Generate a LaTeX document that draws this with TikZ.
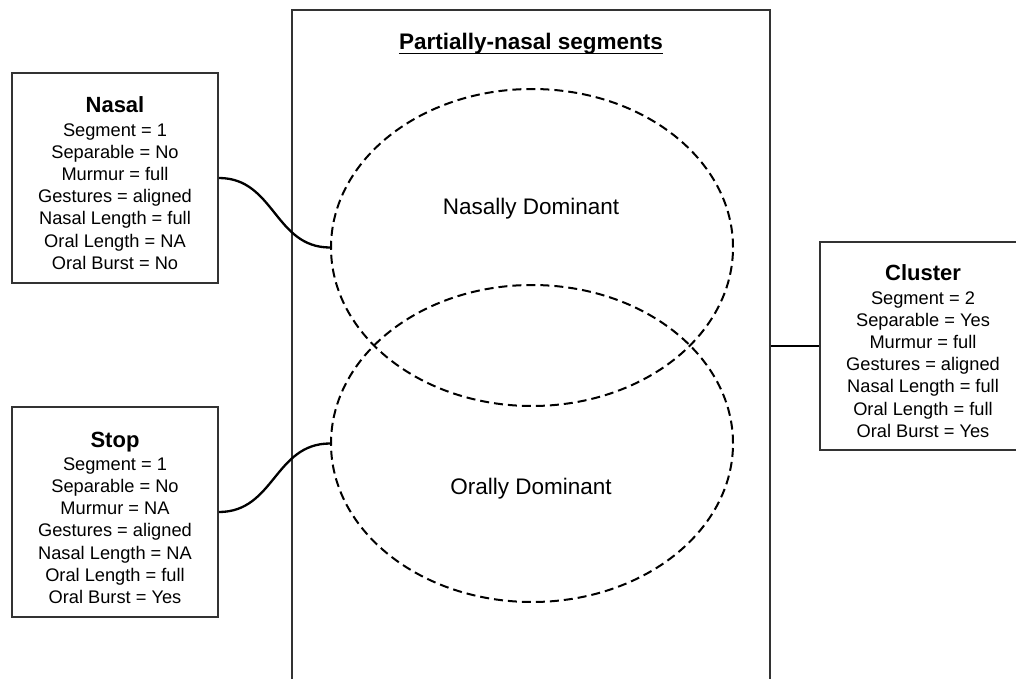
\documentclass[tikz,border=0pt]{standalone}
\usepackage{fontspec}
\setmainfont{Liberation Sans}
\usetikzlibrary{shapes.geometric}
\newcommand\boxheadfont{\fontsize{22}{22.2}\selectfont\bfseries}
\begin{document}
\begin{tikzpicture}[x=1pt,y=-1pt,
  segframe/.style={draw=black!80, line width=1.8pt, minimum width=478pt, minimum height=690pt, inner sep=0pt},
  infobox/.style={draw=black!80, line width=1.8pt, minimum width=206pt, minimum height=210pt, inner sep=0pt},
  infotext/.style={align=center, anchor=north, font=\fontsize{18.25}{22.2}\selectfont, inner sep=0pt},
  dombubble/.style={draw=black, dash pattern=on 9pt off 5pt, line width=2pt, ellipse, minimum width=402pt, minimum height=317pt, inner sep=0pt},
  domlabel/.style={anchor=base, font=\fontsize{22.5}{27}\selectfont, inner sep=0pt},
  linkline/.style={draw=black, line width=2.3pt},
]
\useasboundingbox (0,0) rectangle (1016,679);
\begin{scope}
  \clip (0,0) rectangle (1016,679);

  % container for the partially-nasal segments (open at the bottom)
  \node[segframe] (segments) at (531,355) {};
  \node[anchor=base, inner sep=0pt, font=\fontsize{22.5}{27}\selectfont\bfseries] (heading) at (531,50) {Partially-nasal segments};
  \draw[line width=1.6pt] ([yshift=-3.4pt]heading.base west) -- ([yshift=-3.4pt]heading.base east);

  % the two overlapping dominance regions
  \node[dombubble] (nasdom) at (532,247.5) {};
  \node[dombubble] (oraldom) at (532,443.5) {};
  \node[domlabel] (nasdomlabel) at (531,214) {Nasally Dominant};
  \node[domlabel] (oraldomlabel) at (531,494) {Orally Dominant};

  % feature boxes
  \node[infobox] (nasal) at (115,178) {};
  \node[infotext] (nasaltext) at (115,96.8) {{\boxheadfont Nasal}\\[1pt]
    Segment = 1\\ Separable = No\\ Murmur = full\\ Gestures = aligned\\
    Nasal Length = full\\ Oral Length = NA\\ Oral Burst = No};

  \node[infobox] (stop) at (115,512) {};
  \node[infotext] (stoptext) at (115,431.5) {{\boxheadfont Stop}\\[1pt]
    Segment = 1\\ Separable = No\\ Murmur = NA\\ Gestures = aligned\\
    Nasal Length = NA\\ Oral Length = full\\ Oral Burst = Yes};

  \node[infobox, minimum height=208pt] (cluster) at (923,346) {};
  \node[infotext] (clustertext) at (923,264.8) {{\boxheadfont Cluster}\\[1pt]
    Segment = 2\\ Separable = Yes\\ Murmur = full\\ Gestures = aligned\\
    Nasal Length = full\\ Oral Length = full\\ Oral Burst = Yes};

  % connectors
  \draw[linkline] (nasal.east) .. controls (274.5,178) and (274.5,247.5) .. (nasdom.west);
  \draw[linkline] (stop.east) .. controls (274.5,512) and (274.5,443.5) .. (oraldom.west);
  \draw[linkline] (segments.east |- cluster.west) -- (cluster.west);
\end{scope}
\end{tikzpicture}
\end{document}
